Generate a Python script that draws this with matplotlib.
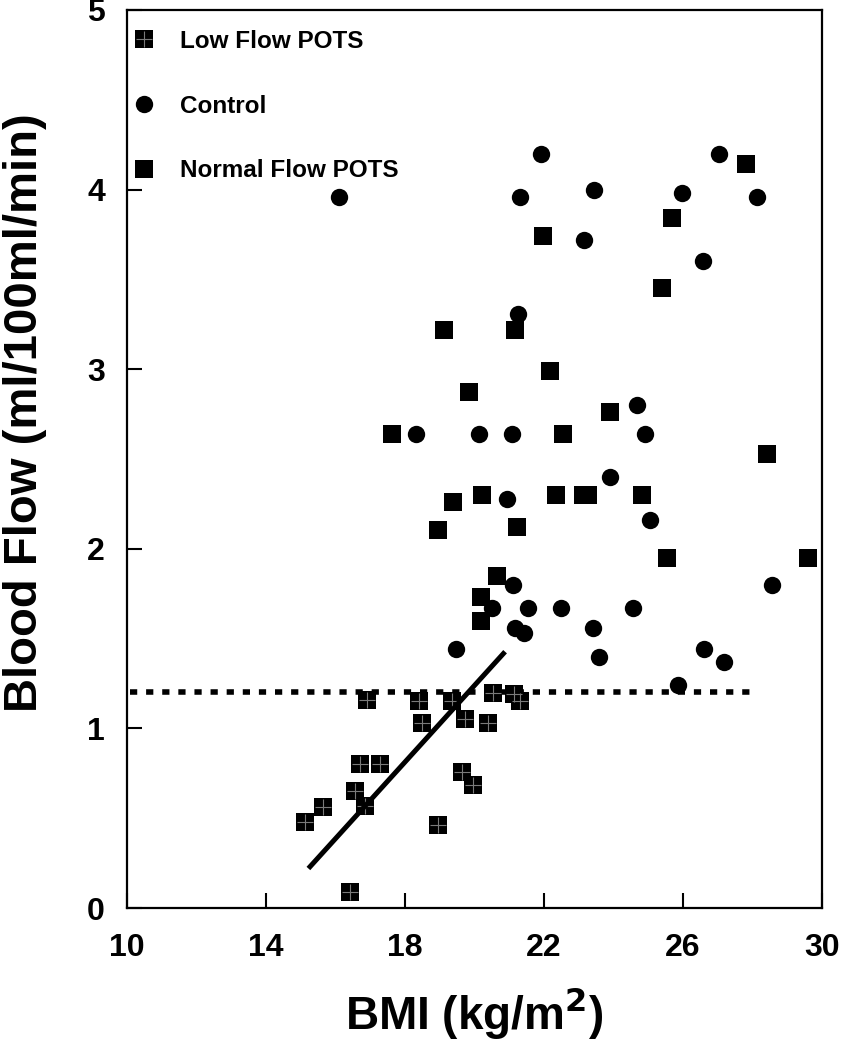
import matplotlib
matplotlib.use('Agg')
import matplotlib.pyplot as plt
from matplotlib.lines import Line2D
from matplotlib.legend_handler import HandlerTuple

plt.rcParams['font.family'] = ['Liberation Sans', 'DejaVu Sans']
plt.rcParams['font.weight'] = 'bold'

# ---- data (BMI kg/m^2, blood flow ml/100ml/min) ----
low_bmi = [15.12, 15.64, 16.42, 16.56, 16.70, 16.85, 16.90, 17.28, 18.41, 18.48,
           18.96, 19.34, 19.63, 19.73, 19.97, 20.40, 20.52, 21.15, 21.30]
low_flow = [0.48, 0.56, 0.09, 0.65, 0.80, 0.57, 1.16, 0.80, 1.15, 1.03,
            0.46, 1.15, 0.76, 1.05, 0.685, 1.03, 1.195, 1.19, 1.15]

ctrl_bmi = [16.11, 21.91, 21.31, 23.43, 23.15, 21.24, 27.04, 28.12, 25.97, 26.58,
            24.69, 18.32, 20.14, 21.09, 24.92, 23.90, 20.94, 25.05, 21.10, 28.57,
            20.49, 21.55, 22.48, 24.57, 21.17, 21.42, 23.42, 23.59, 19.47, 26.60,
            27.18, 25.87]
ctrl_flow = [3.96, 4.20, 3.96, 4.00, 3.72, 3.31, 4.20, 3.96, 3.98, 3.60,
             2.80, 2.64, 2.64, 2.64, 2.64, 2.40, 2.28, 2.16, 1.80, 1.80,
             1.67, 1.67, 1.67, 1.67, 1.56, 1.53, 1.56, 1.40, 1.44, 1.44,
             1.37, 1.24]

norm_bmi = [17.63, 19.13, 19.85, 19.37, 18.96, 20.22, 20.20, 20.20, 20.66, 21.17,
            21.21, 21.98, 22.17, 22.56, 22.34, 23.13, 23.28, 23.90, 24.83, 25.40,
            25.69, 25.55, 27.81, 28.43, 29.61]
norm_flow = [2.64, 3.22, 2.875, 2.26, 2.105, 2.30, 1.73, 1.60, 1.85, 3.22,
             2.12, 3.74, 2.99, 2.64, 2.30, 2.30, 2.30, 2.76, 2.30, 3.45,
             3.84, 1.95, 4.14, 2.53, 1.95]

fit_bmi = [15.22, 20.88]
fit_flow = [0.22, 1.427]

threshold_bmi = [10.1, 27.93]
threshold_flow = [1.205, 1.205]

x_ticks = [10, 14, 18, 22, 26, 30]
y_ticks = [0, 1, 2, 3, 4, 5]

# ---- figure ----
W, H = 841, 1050
fig = plt.figure(figsize=(W / 100, H / 100), dpi=100)
ax = fig.add_axes([127 / W, 1 - 908 / H, (822 - 127) / W, (908 - 10) / H])

ax.plot(threshold_bmi, threshold_flow, color='black', lw=4.0,
        linestyle=(0, (1.3, 1.6)), dash_capstyle='butt', zorder=2)
ax.plot(fit_bmi, fit_flow, color='black', lw=3.6, solid_capstyle='butt', zorder=4)

ax.plot(ctrl_bmi, ctrl_flow, 'o', color='black', ms=12.5, mew=0, zorder=3)
ax.plot(norm_bmi, norm_flow, 's', color='black', ms=13, mew=0, zorder=3)
ax.plot(low_bmi, low_flow, 's', color='black', ms=13, mew=0, zorder=3)
ax.plot(low_bmi, low_flow, '+', color='#7a7a7a', ms=11, mew=0.8, zorder=3.5)

ax.set_xlim(10, 30)
ax.set_ylim(0, 5)
ax.set_xticks(x_ticks)
ax.set_yticks(y_ticks)
ax.tick_params(direction='in', length=11, width=1.5, labelsize=23)
ax.tick_params(axis='x', pad=18)
ax.tick_params(axis='y', pad=16)
for s in ax.spines.values():
    s.set_linewidth(1.6)

ax.set_xlabel('BMI (kg/m$^\\mathbf{2}$)', fontsize=33, fontweight='bold', labelpad=16)
ax.set_ylabel('Blood Flow (ml/100ml/min)', fontsize=34, fontweight='bold')
ax.yaxis.set_label_coords((47 - 127) / 695, (908 - 413) / 898)

h_low = (Line2D([], [], ls='none', marker='s', color='black', ms=13, mew=0),
         Line2D([], [], ls='none', marker='+', color='#7a7a7a', ms=11, mew=0.8))
h_ctrl = Line2D([], [], ls='none', marker='o', color='black', ms=12.5, mew=0)
h_norm = Line2D([], [], ls='none', marker='s', color='black', ms=13, mew=0)
leg = ax.legend([h_low, h_ctrl, h_norm], ['Low Flow POTS', 'Control', 'Normal Flow POTS'],
                handler_map={tuple: HandlerTuple(ndivide=1, pad=0)},
                loc='upper left', bbox_to_anchor=(-15 / 695, 1.0 + 2 / 898), frameon=False,
                prop={'size': 17.5, 'weight': 'bold'}, handlelength=0.8,
                handletextpad=1.1, labelspacing=1.72, borderaxespad=0.6,
                borderpad=0.3)

fig.savefig('out.png', dpi=100)
